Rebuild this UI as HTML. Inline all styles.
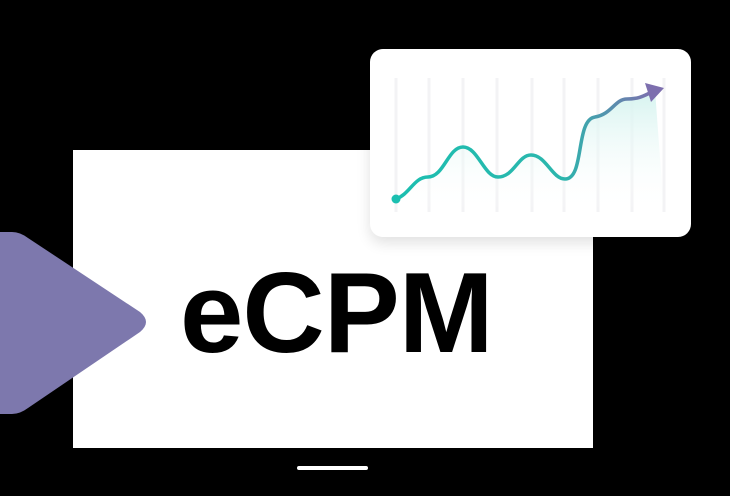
<!DOCTYPE html>
<html><head><style>
body{margin:0;background:#000;width:730px;height:496px;overflow:hidden;position:relative;font-family:"Liberation Sans",sans-serif}
.scr{position:absolute;left:73px;top:150px;width:520px;height:298px;background:#fff}
.txt{position:absolute;left:180px;top:257px;font-size:114px;font-weight:bold;color:#000;letter-spacing:-1px;line-height:114px;white-space:nowrap}
.bar{position:absolute;left:297px;top:466px;width:71px;height:4px;background:#fff;border-radius:2px}
.card{position:absolute;left:370px;top:49px;width:321px;height:188px;background:#fff;border-radius:13px;box-shadow:0 6px 14px rgba(0,0,0,0.12)}
</style></head><body>
<div class="scr"></div>
<svg style="position:absolute;left:0;top:0" width="730" height="496">
<path d="M0,232 L12,232 Q20,232 28,238 L140,312 Q152,322 140,332 L28,408 Q20,414 12,414 L0,414 Z" fill="#7d78ad"/>
</svg>
<div class="txt">eCPM</div>
<div class="bar"></div>
<div class="card"></div>
<svg style="position:absolute;left:0;top:0" width="730" height="496">
<defs>
<linearGradient id="g" x1="0" x2="1" y1="0" y2="0"><stop offset="0" stop-color="#1bbfb0"/><stop offset="0.65" stop-color="#2cb6ad"/><stop offset="1" stop-color="#7d6fae"/></linearGradient>
<linearGradient id="f" x1="0" x2="0" y1="0" y2="1"><stop offset="0" stop-color="#d5f3ef"/><stop offset="1" stop-color="#fff" stop-opacity="0"/></linearGradient>
</defs>
<g stroke="#f3f3f5" stroke-width="3">
<line x1="396" y1="78" x2="396" y2="212"/><line x1="429" y1="78" x2="429" y2="212"/><line x1="463" y1="78" x2="463" y2="212"/><line x1="497" y1="78" x2="497" y2="212"/><line x1="532" y1="78" x2="532" y2="212"/><line x1="564" y1="78" x2="564" y2="212"/><line x1="598" y1="78" x2="598" y2="212"/><line x1="632" y1="78" x2="632" y2="212"/><line x1="664" y1="78" x2="664" y2="212"/>
</g>
<path d="M396,199 C410,194 414,177 428,177 C444,177 448,147 463,147 C478,147 484,177 498,177 C514,177 518,155 531,155 C546,155 552,179 565,179 C585,179 575,120 595,117 C612,114 615,99 627,99 C640,99 645,95 655,90 L664,212 L396,212 Z" fill="url(#f)"/>
<path d="M396,199 C410,194 414,177 428,177 C444,177 448,147 463,147 C478,147 484,177 498,177 C514,177 518,155 531,155 C546,155 552,179 565,179 C585,179 575,120 595,117 C612,114 615,99 627,99 C640,99 645,95 652,92" fill="none" stroke="url(#g)" stroke-width="3.5" stroke-linecap="round"/>
<polygon points="645,83 664,88 651,102" fill="#7d6fae"/>
<circle cx="396" cy="199" r="4.5" fill="#1bbfb0"/>
</svg>
</body></html>
